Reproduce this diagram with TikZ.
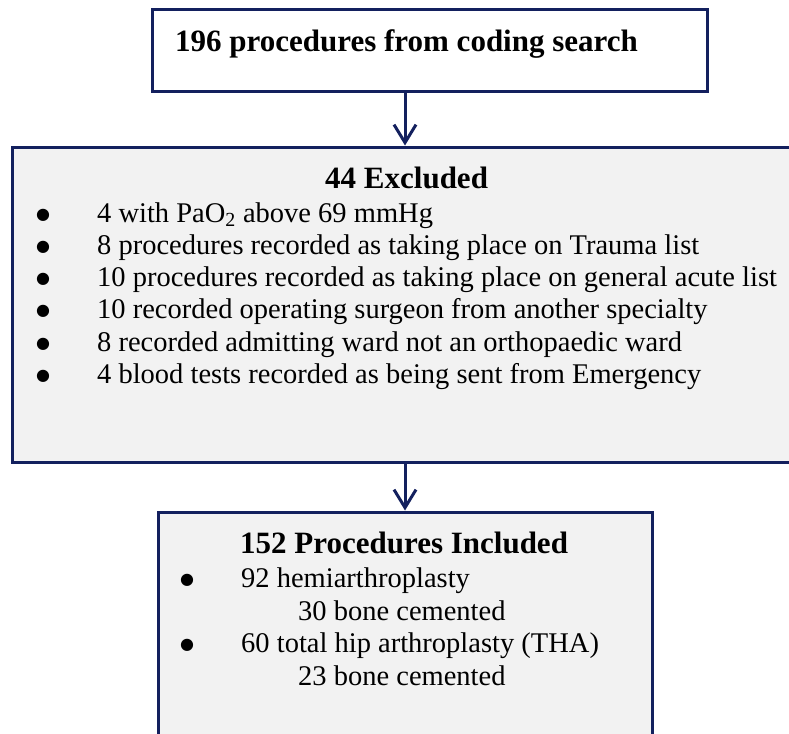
\documentclass[tikz,border=0pt]{standalone}
\usepackage{fontspec}
\setmainfont{Liberation Serif}
\newfontfamily\dotfont{DejaVu Sans}
\usetikzlibrary{arrows.meta}
\definecolor{navy}{HTML}{13205E}
\definecolor{boxgray}{HTML}{F2F2F2}

\begin{document}
\begin{tikzpicture}[x=1pt,y=-1pt,
  box/.style={draw=navy,line width=3pt,inner sep=0pt},
  txt/.style={anchor=base west,inner sep=0pt,font=\fontsize{28.5}{32}\selectfont},
  head/.style={txt,font=\fontsize{31}{36}\selectfont\bfseries},
  dot/.style={anchor=base,inner sep=0pt,font=\dotfont\fontsize{16}{20}\selectfont},
  arr/.style={-{Straight Barb[length=18pt,width=22pt]},line width=3pt,navy}]
\useasboundingbox (0,0) rectangle (789,733);
\node[box,fill=white,minimum width=555pt,minimum height=82pt] (search) at (429.5,51) {};
\node[box,fill=boxgray,minimum width=790pt,minimum height=315pt] (excl) at (407,304.5) {};
\node[box,fill=boxgray,minimum width=494pt,minimum height=240pt] (incl) at (405,632) {};
\draw[arr] (search.south -| incl.north) -- (excl.north -| incl.north);
\draw[arr] (excl.south -| incl.north) -- (incl.north);
\node[head] (ttop) at (175,52) {196 procedures from coding search};
\node[head] (texcl) at (325,188) {44 Excluded};
\foreach \t [count=\i] in {4 with PaO\textsubscript{2} above 69 mmHg,
  8 procedures recorded as taking place on Trauma list,
  10 procedures recorded as taking place on general acute list,
  10 recorded operating surgeon from another specialty,
  8 recorded admitting ward not an orthopaedic ward,
  4 blood tests recorded as being sent from Emergency}
  {\node[txt] (ex\i) at (97,190+32.2*\i) {\t};
   \node[dot] (exb\i) at (43,187+32.2*\i) {●};}
\node[head] (tincl) at (240,553) {152 Procedures Included};
\node[txt] (in1) at (241,587) {92 hemiarthroplasty};
\node[txt] (in2) at (298,620) {30 bone cemented};
\node[txt] (in3) at (241,652) {60 total hip arthroplasty (THA)};
\node[txt] (in4) at (298,685) {23 bone cemented};
\node[dot] (inb1) at (187,584) {●};
\node[dot] (inb3) at (187,649) {●};
\end{tikzpicture}
\end{document}
